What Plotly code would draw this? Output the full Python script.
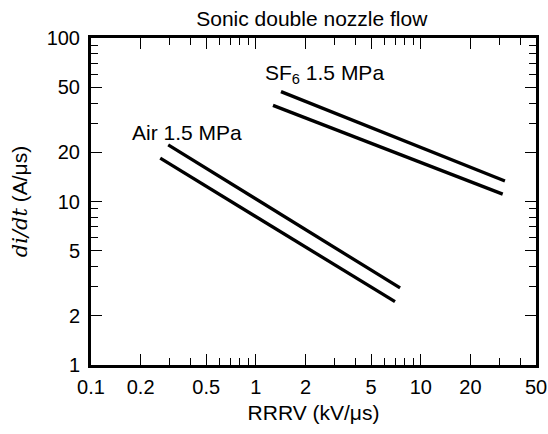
import math
import plotly.graph_objects as go

# RRRV (kV/us) vs di/dt (A/us)
air_upper_x = [0.294, 7.49]
air_upper_y = [22.2, 2.96]
air_lower_x = [0.263, 6.98]
air_lower_y = [18.4, 2.44]
sf6_upper_x = [1.42, 32.4]
sf6_upper_y = [47.0, 13.35]
sf6_lower_x = [1.27, 31.4]
sf6_lower_y = [38.7, 11.1]

labels = ["Air 1.5 MPa", "SF<sub>6</sub> 1.5 MPa"]
label_x = [0.173, 1.107]
label_y = [26.6, 60.2]

x_ticks = [0.1, 0.2, 0.5, 1, 2, 5, 10, 20, 50]
y_ticks = [1, 2, 5, 10, 20, 50, 100]
x_minor = [0.3, 0.4, 0.6, 0.7, 0.8, 0.9, 3, 4, 6, 7, 8, 9, 30, 40]
y_minor = [3, 4, 6, 7, 8, 9, 30, 40, 60, 70, 80, 90]

FONT = "Liberation Sans, Arial, sans-serif"

fig = go.Figure()
for xs, ys in [(air_upper_x, air_upper_y), (air_lower_x, air_lower_y),
               (sf6_upper_x, sf6_upper_y), (sf6_lower_x, sf6_lower_y)]:
    fig.add_trace(go.Scatter(x=xs, y=ys, mode="lines",
                             line=dict(color="black", width=3.3)))

# annotations on log axes take log10 positions
for t, lx, ly in zip(labels, label_x, label_y):
    fig.add_annotation(x=math.log10(lx), y=math.log10(ly), text=t,
                       xanchor="left", yanchor="middle", showarrow=False,
                       font=dict(size=21, color="black", family=FONT))

axis_common = dict(
    showline=True, linecolor="black", linewidth=3, mirror="ticks",
    ticks="inside", ticklen=11, tickwidth=1, tickcolor="black",
    showgrid=False, zeroline=False, automargin=False,
    tickfont=dict(size=20, color="black", family=FONT),
)

fig.update_xaxes(type="log", range=[-1, 1.69897], tickmode="array",
                 tickvals=x_ticks, ticktext=[str(v) for v in x_ticks],
                 minor=dict(tickmode="array", tickvals=x_minor, ticks="inside",
                            ticklen=7, tickcolor="black", tickwidth=1),
                 ticklabeloverflow="allow", ticklabelstandoff=2,
                 title=dict(text="RRRV (kV/μs)", standoff=9,
                            font=dict(size=21, color="black", family=FONT)),
                 **axis_common)
fig.update_yaxes(type="log", range=[0, 2], tickmode="array",
                 tickvals=y_ticks, ticktext=[str(v) for v in y_ticks],
                 minor=dict(tickmode="array", tickvals=y_minor, ticks="inside",
                            ticklen=7, tickcolor="black", tickwidth=1),
                 ticklabelstandoff=4,
                 title=dict(text='<span style="font-family:\'DejaVu Serif\', serif"><i>di/dt</i></span> (A/μs)',
                            standoff=14,
                            font=dict(size=21, color="black", family=FONT)),
                 **axis_common)

fig.update_layout(
    width=548, height=434,
    margin=dict(l=91, r=12, t=38, b=69),
    paper_bgcolor="white", plot_bgcolor="white",
    showlegend=False,
    font=dict(family=FONT, color="black"),
    title=dict(text="Sonic double nozzle flow", x=0.569, xanchor="center",
               y=0.958, yanchor="middle",
               font=dict(size=21, color="black", family=FONT)),
)

# drop the default 8px page margin so the figure sits at the window's corner
fig.write_html("out.html", config={"displayModeBar": False},
               post_script="document.body.style.margin='0';")
